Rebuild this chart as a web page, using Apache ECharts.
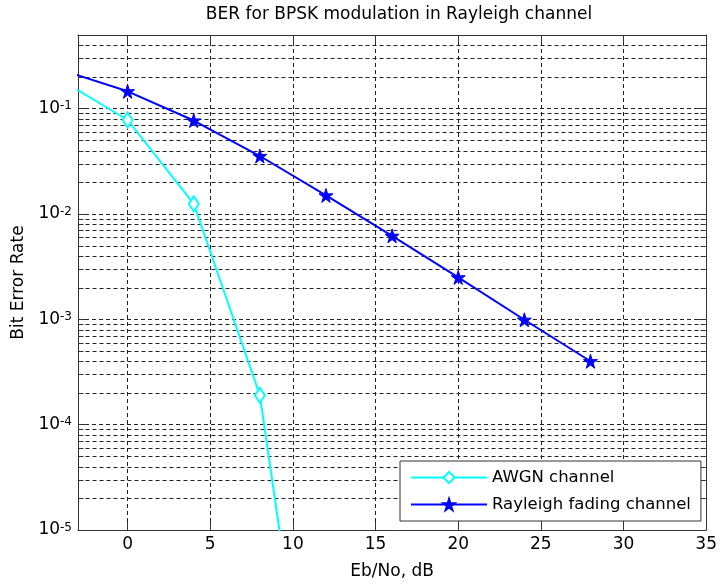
<!DOCTYPE html>
<html>
<head>
<meta charset="utf-8">
<script src="https://cdn.jsdelivr.net/npm/echarts@6/dist/echarts.min.js"></script>
<style>
  html, body { margin: 0; padding: 0; background: #fff; }
  #chart { width: 720px; height: 585px; }
</style>
</head>
<body>
<div id="chart"></div>
<script>
// Eb/No sample points (dB) and bit error rates for both channels
const ebNoDb = [-4, 0, 4, 8, 12, 16, 20, 24, 28];
const berAwgn = [0.186, 0.078, 0.0125, 0.00019, 0.000000009];
const berRayleigh = [0.233, 0.146, 0.0771, 0.0355, 0.0150, 0.0062, 0.0025, 0.00099, 0.0004];

// axis ranges
const xRange = [-3, 35];
const yRange = [0.00001, 0.5];

// minor (non-decade) horizontal grid values of the log axis
const minorGridValues = [
  0.00002, 0.00003, 0.00004, 0.00005, 0.00006, 0.00007, 0.00008, 0.00009,
  0.0002, 0.0003, 0.0004, 0.0005, 0.0006, 0.0007, 0.0008, 0.0009,
  0.002, 0.003, 0.004, 0.005, 0.006, 0.007, 0.008, 0.009,
  0.02, 0.03, 0.04, 0.05, 0.06, 0.07, 0.08, 0.09,
  0.2, 0.3, 0.4
];

const FONT = 'DejaVu Sans';
const TEXT = '#000';
const FRAME = '#333';
const GRID = '#222';
const DASH = [4, 3];

const starPath = 'path://M50,0 L61,35 L98,35 L68,57 L79,91 L50,70 L21,91 L32,57 L2,35 L39,35 Z';

function pairs(xs, ys) {
  return ys.map((y, i) => [xs[i], y]);
}

function decadeLabel(v) {
  const e = Math.log10(v);
  const r = Math.round(e);
  if (Math.abs(e - r) > 1e-6) return '';
  return '{b|10}{s|' + r + '}';
}

const chart = echarts.init(document.getElementById('chart'), null, { renderer: 'canvas' });

const xBase = {
  type: 'value',
  min: xRange[0],
  max: xRange[1],
  minInterval: 5,
  maxInterval: 5,
  axisLine: { show: true, onZero: false, lineStyle: { color: FRAME, width: 1 } },
  axisTick: { show: true, inside: true, length: 8, lineStyle: { color: FRAME } }
};

const yBase = {
  type: 'log',
  logBase: 10,
  min: yRange[0],
  max: yRange[1],
  axisLine: { show: true, onZero: false, lineStyle: { color: FRAME, width: 1 } },
  axisTick: { show: true, inside: true, length: 8, lineStyle: { color: FRAME } }
};

chart.setOption({
  animation: false,
  backgroundColor: '#fff',
  textStyle: { fontFamily: FONT },
  title: {
    text: 'BER for BPSK modulation in Rayleigh channel',
    left: 394,
    top: 1,
    textAlign: 'center',
    textStyle: { fontFamily: FONT, fontSize: 17, fontWeight: 'normal', color: TEXT }
  },
  grid: { left: 78, right: 10, top: 35, bottom: 54, containLabel: false },
  legend: {
    orient: 'vertical',
    left: 400,
    top: 461,
    padding: [8, 10, 8, 10],
    itemGap: 10,
    itemWidth: 76,
    itemHeight: 14,
    backgroundColor: '#fff',
    borderColor: FRAME,
    borderWidth: 1,
    borderRadius: 0,
    textStyle: { fontFamily: FONT, fontSize: 16.5, color: TEXT },
    data: ['AWGN channel', 'Rayleigh fading channel']
  },
  xAxis: [
    Object.assign({}, xBase, {
      position: 'bottom',
      name: 'Eb/No, dB',
      nameLocation: 'middle',
      nameGap: 33,
      nameTextStyle: { fontFamily: FONT, fontSize: 17, color: TEXT },
      axisLabel: { show: true, margin: 6, showMinLabel: false, fontFamily: FONT, fontSize: 17, color: TEXT },
      splitLine: { show: true, lineStyle: { color: GRID, width: 1, type: DASH } }
    }),
    Object.assign({}, xBase, {
      position: 'top',
      axisLabel: { show: false },
      splitLine: { show: false }
    })
  ],
  yAxis: [
    Object.assign({}, yBase, {
      position: 'left',
      name: 'Bit Error Rate',
      nameLocation: 'middle',
      nameGap: 49,
      nameTextStyle: { fontFamily: FONT, fontSize: 17, color: TEXT },
      axisLabel: {
        show: true,
        margin: 6,
        showMaxLabel: false,
        formatter: decadeLabel,
        rich: {
          b: { fontFamily: FONT, fontSize: 17, lineHeight: 17, color: TEXT, verticalAlign: 'middle' },
          s: { fontFamily: FONT, fontSize: 12, lineHeight: 12, color: TEXT, verticalAlign: 'top', padding: [0, 0, 15, 0] }
        }
      },
      splitLine: { show: true, lineStyle: { color: GRID, width: 1, type: DASH } }
    }),
    Object.assign({}, yBase, {
      position: 'right',
      axisLabel: { show: false },
      splitLine: { show: false }
    })
  ],
  series: [
    {
      // minor grid lines with small ticks on both frame edges
      type: 'custom',
      silent: true,
      z: 1,
      xAxisIndex: 0,
      yAxisIndex: 0,
      data: minorGridValues.map(v => [xRange[0], v]),
      renderItem: function (params, api) {
        const v = api.value(1);
        const p0 = api.coord([xRange[0], v]);
        const p1 = api.coord([xRange[1], v]);
        const y = Math.round(p0[1]) + 0.5;
        const x0 = Math.round(p0[0]) + 0.5;
        const x1 = Math.round(p1[0]) - 0.5;
        return {
          type: 'group',
          children: [
            { type: 'line', shape: { x1: x0, y1: y, x2: x1, y2: y },
              style: { stroke: GRID, lineWidth: 1, lineDash: DASH } },
            { type: 'line', shape: { x1: x0, y1: y, x2: x0 + 5, y2: y },
              style: { stroke: FRAME, lineWidth: 1 } },
            { type: 'line', shape: { x1: x1 - 5, y1: y, x2: x1, y2: y },
              style: { stroke: FRAME, lineWidth: 1 } }
          ]
        };
      }
    },
    {
      name: 'AWGN channel',
      type: 'line',
      z: 3,
      clip: true,
      data: pairs(ebNoDb, berAwgn),
      symbol: 'diamond',
      symbolSize: [10, 15],
      showAllSymbol: true,
      lineStyle: { color: '#00ffff', width: 2 },
      itemStyle: { color: '#ffffff', borderColor: '#00ffff', borderWidth: 2 }
    },
    {
      name: 'Rayleigh fading channel',
      type: 'line',
      z: 4,
      clip: true,
      data: pairs(ebNoDb, berRayleigh),
      symbol: starPath,
      symbolSize: 14,
      showAllSymbol: true,
      lineStyle: { color: '#0000ff', width: 2 },
      itemStyle: { color: '#0000ff', borderColor: '#0000ff', borderWidth: 1 }
    }
  ]
});
</script>
</body>
</html>
